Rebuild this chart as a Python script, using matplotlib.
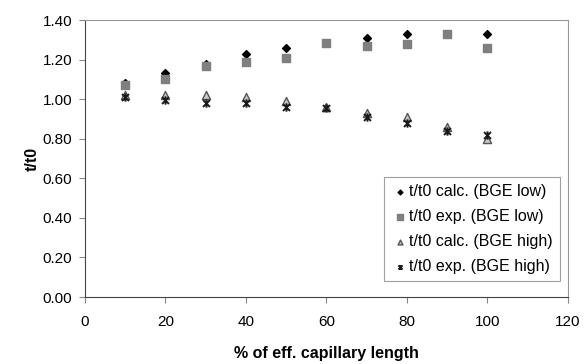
import matplotlib
matplotlib.use("Agg")
import matplotlib.pyplot as plt
from matplotlib.path import Path
from matplotlib.ticker import FormatStrFormatter

plt.rcParams["font.family"] = ["Liberation Sans", "DejaVu Sans"]

x = [10, 20, 30, 40, 50, 60, 70, 80, 90, 100]
calc_low = [1.08, 1.13, 1.18, 1.23, 1.26, 1.285, 1.31, 1.33, 1.33, 1.33]
exp_low = [1.07, 1.10, 1.17, 1.19, 1.21, 1.285, 1.27, 1.28, 1.33, 1.26]
calc_high = [1.02, 1.02, 1.02, 1.01, 0.99, 0.96, 0.93, 0.91, 0.86, 0.80]
exp_high = [1.01, 0.995, 0.98, 0.98, 0.96, 0.955, 0.91, 0.88, 0.84, 0.82]

# Excel-style star marker: x with a vertical stroke
star = Path([(-1, -1), (1, 1), (-1, 1), (1, -1), (0, -1.2), (0, 1.2)],
            [Path.MOVETO, Path.LINETO, Path.MOVETO, Path.LINETO, Path.MOVETO, Path.LINETO])

fig = plt.figure(figsize=(5.84, 3.64), dpi=100)
ax = fig.add_axes([0.1455, 0.184, 0.827, 0.761])

ax.scatter(x, calc_low, marker="D", s=16, color="black", label="t/t0 calc. (BGE low)", zorder=3)
ax.scatter(x, exp_low, marker="s", s=38, color="#7f7f7f", label="t/t0 exp. (BGE low)", zorder=4)
ax.scatter(x, calc_high, marker="^", s=34, facecolor="#c8c8c8", edgecolor="#555555",
           linewidth=1.0, label="t/t0 calc. (BGE high)", zorder=3)
ax.scatter(x, exp_high, marker=star, s=36, color="#1a1a1a", linewidth=1.4,
           label="t/t0 exp. (BGE high)", zorder=5)

ax.set_xlim(0, 120)
ax.set_ylim(0, 1.40)
ax.set_xticks(range(0, 121, 20))
ax.set_yticks([0, 0.2, 0.4, 0.6, 0.8, 1.0, 1.2, 1.4])
ax.yaxis.set_major_formatter(FormatStrFormatter("%.2f"))
ax.tick_params(labelsize=11, direction="out", length=4, width=0.8, color="#888888")
ax.tick_params(axis="x", pad=9)
ax.tick_params(axis="y", pad=5)

for side in ["top", "right"]:
    ax.spines[side].set_color("#999999")
for side in ["left", "bottom"]:
    ax.spines[side].set_color("#444444")

ax.set_xlabel("% of eff. capillary length", fontsize=11.5, fontweight="bold", labelpad=12)
ax.set_ylabel("t/t0", fontsize=11.5, fontweight="bold", labelpad=2)

leg = ax.legend(loc="lower right", bbox_to_anchor=(0.99, 0.045), fontsize=11.5,
                frameon=True, fancybox=False, edgecolor="#888888", handletextpad=0.1,
                handlelength=1.0, labelspacing=0.62, borderpad=0.45, markerscale=0.6,
                borderaxespad=0.2)
leg.get_frame().set_linewidth(0.8)

fig.savefig("out.png", dpi=100)
